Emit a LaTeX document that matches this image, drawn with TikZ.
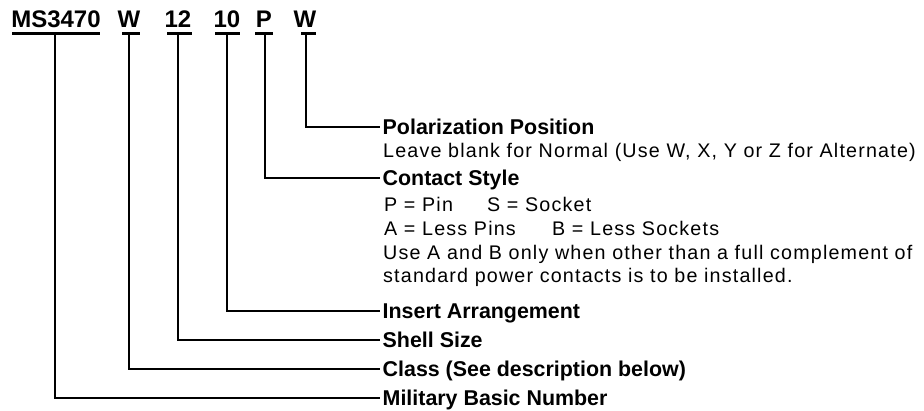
\documentclass[tikz,border=0pt]{standalone}
\usepackage{fontspec}
\setmainfont{Liberation Sans}
\newfontfamily\regfont[LetterSpace=6]{Liberation Sans}
\begin{document}
\begin{tikzpicture}[x=1pt,y=-1pt,
  head/.style={inner sep=0pt, anchor=base, font=\fontsize{24}{28}\selectfont\bfseries},
  lbl/.style={inner xsep=2.5pt, inner ysep=0pt, text height=14pt, text depth=0pt, anchor=base west, font=\fontsize{21.4}{25}\selectfont\bfseries},
  desc/.style={inner sep=0pt, anchor=base west, font=\fontsize{19.7}{23}\regfont},
  uline/.style={line width=3pt},
  conn/.style={line width=2.7pt}]
\useasboundingbox (0,0) rectangle (924,410);
% header
\node[head] (h1) at (56,27) {MS3470};
\node[head] (h2) at (129,27) {W};
\node[head] (h3) at (178,27) {12};
\node[head] (h4) at (227,27) {10};
\node[head] (h5) at (264,27) {P};
\node[head] (h6) at (305,27) {W};
% underlines
\coordinate (u1a) at (12,33.5); \coordinate (u1b) at (100,33.5);
\coordinate (u2a) at (122,33.5); \coordinate (u2b) at (140,33.5);
\coordinate (u3a) at (167,33.5); \coordinate (u3b) at (192,33.5);
\coordinate (u4a) at (215,33.5); \coordinate (u4b) at (240,33.5);
\coordinate (u5a) at (255,33.5); \coordinate (u5b) at (273,33.5);
\coordinate (u6a) at (301,33.5); \coordinate (u6b) at (316,33.5);
\foreach \i in {1,...,6} {\draw[uline] (u\i a) -- (u\i b);}
% connector tops
\coordinate (v1) at (55,33);
\coordinate (v2) at (129,33);
\coordinate (v3) at (178,33);
\coordinate (v4) at (227,33);
\coordinate (v5) at (265,33);
\coordinate (v6) at (306,33);
% labels
\node[lbl] (l6) at (380,134) {Polarization Position};
\node[desc] (d6) at (383,157) {Leave blank for Normal (Use W, X, Y or Z for Alternate)};
\node[lbl] (l5) at (380,185) {Contact Style};
\node[desc] (d5a) at (384,211) {P = Pin};
\node[desc] (d5b) at (487,211) {S = Socket};
\node[desc] (d5c) at (384,235) {A = Less Pins};
\node[desc] (d5d) at (552,235) {B = Less Sockets};
\node[desc] (d5e) at (383,259) {Use A and B only when other than a full complement of};
\node[desc] (d5f) at (383,282) {standard power contacts is to be installed.};
\node[lbl] (l4) at (380,318) {Insert Arrangement};
\node[lbl] (l3) at (380,347) {Shell Size};
\node[lbl] (l2) at (380,376) {Class (See description below)};
\node[lbl] (l1) at (380,405) {Military Basic Number};
% connectors
\draw[conn] (v6) |- (l6.west);
\draw[conn] (v5) |- (l5.west);
\draw[conn] (v4) |- (l4.west);
\draw[conn] (v3) |- (l3.west);
\draw[conn] (v2) |- (l2.west);
\draw[conn] (v1) |- (l1.west);
\end{tikzpicture}
\end{document}
